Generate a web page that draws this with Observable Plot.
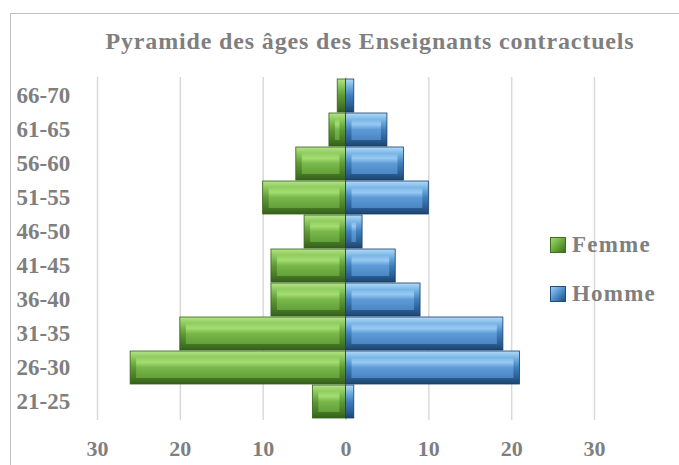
<!DOCTYPE html>
<html>
<head>
<meta charset="utf-8">
<script src="https://cdn.jsdelivr.net/npm/d3@7"></script>
<script src="https://cdn.jsdelivr.net/npm/@observablehq/plot@0.6"></script>
<style>
  html, body { margin: 0; padding: 0; background: #fff; }
  #wrap { position: relative; width: 679px; height: 465px; overflow: hidden; font-family: "Liberation Serif", serif; }
  #frame { position: absolute; left: 10px; top: 13px; width: 700px; height: 500px; border: 1px solid #bfbfbf; box-sizing: border-box; }
  #title { position: absolute; left: 0; top: 28px; width: 740px; text-align: center; font-size: 24px; letter-spacing: 0.85px; font-weight: bold; color: #7f7f7f; }
  #chart { position: absolute; left: 0; top: 0; }
  .leg { position: absolute; left: 550px; font-size: 23px; letter-spacing: 1.2px; font-weight: bold; color: #7f7f7f; display: flex; align-items: center; }
  .sw { width: 16px; height: 16px; margin-right: 6px; box-sizing: border-box; }
</style>
</head>
<body>
<div id="wrap">
  <div id="frame"></div>
  <div id="chart"></div>
  <div id="title">Pyramide des âges des Enseignants contractuels</div>
  <div class="leg" style="top:232px"><div class="sw" style="background:linear-gradient(135deg,#9fd86e 0%,#6aaa3c 50%,#3e6e20 100%);border:1px solid #3e6e20"></div>Femme</div>
  <div class="leg" style="top:281px"><div class="sw" style="background:linear-gradient(135deg,#9fcdf3 0%,#4f90cf 50%,#1f4f80 100%);border:1px solid #1f4f80"></div>Homme</div>
</div>
<script>
const ages = ["66-70", "61-65", "56-60", "51-55", "46-50", "41-45", "36-40", "31-35", "26-30", "21-25"];
const femme = [1, 2, 6, 10, 5, 9, 9, 20, 26, 4];
const homme = [1, 5, 7, 10, 2, 6, 9, 19, 21, 1];
const xTicks = [-30, -20, -10, 0, 10, 20, 30];

const rows = [];
ages.forEach((a, i) => {
  rows.push({age: a, sexe: "Femme", v: -femme[i]});
  rows.push({age: a, sexe: "Homme", v: homme[i]});
});
const fem = rows.filter(d => d.sexe === "Femme");
const hom = rows.filter(d => d.sexe === "Homme");

const font = "'Liberation Serif', serif";
const chart = Plot.plot({
  width: 679,
  height: 465,
  marginTop: 77,
  marginBottom: 45,
  marginLeft: 97,
  marginRight: 85,
  style: {fontFamily: font, fontSize: "23px", fontWeight: "bold", color: "#7f7f7f", background: "transparent", overflow: "visible"},
  x: {domain: [-30, 30], label: null},
  y: {domain: ages, label: null, padding: 0.03},
  marks: [
    Plot.gridX(xTicks, {stroke: "#d9d9d9", strokeOpacity: 1, strokeWidth: 1.5}),
    Plot.barX(fem, {x: "v", y: "age", fill: "url(#gOutG)", stroke: "#35601b", strokeWidth: 0.8}),
    Plot.barX(fem, {x: "v", y: "age", fill: "url(#gInG)", insetLeft: 6, insetRight: 6, insetTop: 6, insetBottom: 6}),
    Plot.barX(hom, {x: "v", y: "age", fill: "url(#gOutB)", stroke: "#173d66", strokeWidth: 0.8}),
    Plot.barX(hom, {x: "v", y: "age", fill: "url(#gInB)", insetLeft: 6, insetRight: 6, insetTop: 6, insetBottom: 6}),
    Plot.axisY({tickSize: 0, tickPadding: 81, textAnchor: "start", label: null}),
    Plot.axisX({ticks: xTicks, tickFormat: d => Math.abs(d), tickSize: 0, tickPadding: 20, fontSize: 22, label: null})
  ]
});

const svg = d3.select(chart);
const defs = svg.insert("defs", ":first-child");
function grad(id, stops) {
  const g = defs.append("linearGradient").attr("id", id).attr("x1", 0).attr("y1", 0).attr("x2", 0).attr("y2", 1);
  stops.forEach(([o, c]) => g.append("stop").attr("offset", o).attr("stop-color", c));
}
grad("gOutG", [[0, "#b4e487"], [0.2, "#8cc95c"], [0.5, "#5f9a35"], [0.8, "#467a25"], [1, "#34601a"]]);
grad("gInG", [[0, "#8fce5d"], [0.25, "#a4dc72"], [0.5, "#79b84a"], [1, "#63a03a"]]);
grad("gOutB", [[0, "#b2daf8"], [0.2, "#7ab5e6"], [0.5, "#3f7fbd"], [0.8, "#2b5f94"], [1, "#1b4470"]]);
grad("gInB", [[0, "#78b4e6"], [0.25, "#98caf2"], [0.5, "#5e9bd6"], [1, "#4a86c4"]]);

document.getElementById("chart").appendChild(chart);
</script>
</body>
</html>
